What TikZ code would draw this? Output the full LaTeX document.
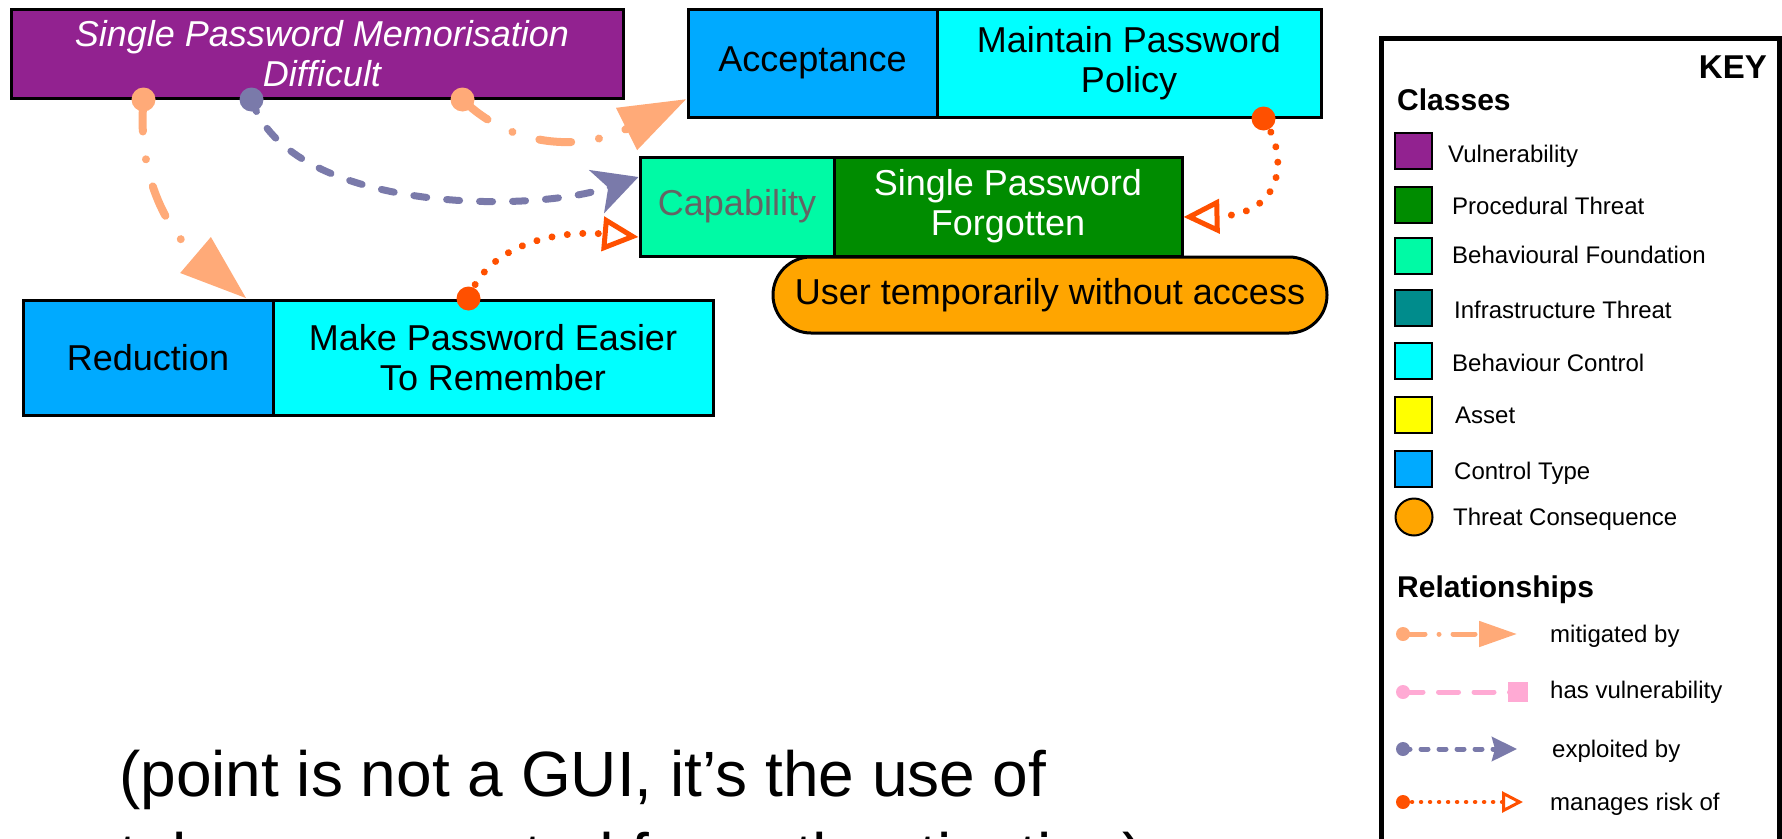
\documentclass[tikz,border=0pt]{standalone}
\usepackage{fontspec}
\setmainfont{Liberation Sans}
\usetikzlibrary{arrows.meta,calc}
\definecolor{vulnC}{RGB}{146,34,144}
\definecolor{ctrlT}{RGB}{0,170,255}
\definecolor{bctrl}{RGB}{0,255,255}
\definecolor{bfound}{RGB}{0,250,165}
\definecolor{pthreat}{RGB}{0,140,0}
\definecolor{ithreat}{RGB}{0,140,140}
\definecolor{assetC}{RGB}{255,255,0}
\definecolor{conseq}{RGB}{255,165,0}
\definecolor{mitC}{RGB}{255,170,120}
\definecolor{hasvC}{RGB}{255,170,212}
\definecolor{expC}{RGB}{122,122,170}
\definecolor{manC}{RGB}{255,80,0}
\definecolor{capTxt}{RGB}{100,100,100}
\begin{document}
\begin{tikzpicture}[x=1pt,y=-1pt,
  box/.style={draw=black, line width=3pt, rectangle, inner sep=0pt, align=center,
    font=\fontsize{36}{40}\selectfont},
  mitline/.style={draw=mitC, line width=8pt, line cap=round,
    dash pattern=on 32pt off 28pt on 0.01pt off 28pt, -{Triangle[length=67pt,width=45pt]}},
  expline/.style={draw=expC, line width=7pt, line cap=round,
    dash pattern=on 13pt off 20pt, -{Stealth[length=44pt,width=45pt,inset=12pt]}},
  manline/.style={draw=manC, line width=7pt, line cap=round,
    dash pattern=on 0.01pt off 15.5pt, -{Triangle[open,length=36pt,width=34pt,line width=5pt]}},
  legsq/.style={draw=black, line width=2pt, rectangle, inner sep=0pt, minimum width=37pt, minimum height=36pt},
  legtxt/.style={anchor=base west, inner sep=0pt, font=\fontsize{24}{28}\selectfont},
  leghead/.style={anchor=base west, inner sep=0pt, font=\bfseries\fontsize{30}{34}\selectfont},
  notetxt/.style={anchor=base west, inner sep=0pt, font=\fontsize{64}{76}\selectfont}
]
\useasboundingbox (0,0) rectangle (1782,838);
\clip (0,0) rectangle (1782,838);

% ---------- main boxes ----------
\node[box, fill=vulnC, text=white, font=\fontsize{36}{40}\selectfont\itshape,
  minimum width=612pt, minimum height=89pt] (vuln) at (317,53.5)
  {\hspace*{10pt}Single Password Memorisation\\\hspace*{10pt}Difficult};
\node[box, fill=ctrlT, minimum width=249pt, minimum height=108pt] (acc) at (812.5,63) {Acceptance};
\node[box, fill=bctrl, minimum width=384pt, minimum height=108pt] (main) at (1129,63) {Maintain Password\\Policy};
\node[box, fill=bfound, text=capTxt, minimum width=194pt, minimum height=99pt] (cap) at (737,206.5) {Capability};
\node[box, fill=pthreat, text=white, minimum width=348pt, minimum height=99pt] (spf) at (1008,206.5) {Single Password\\Forgotten};
\node[box, fill=conseq, rounded corners=38pt, minimum width=554pt, minimum height=76pt] (user) at (1050,295) {User temporarily without access};
\node[box, fill=ctrlT, minimum width=250pt, minimum height=115pt] (red) at (148,357.5) {Reduction};
\node[box, fill=bctrl, minimum width=440pt, minimum height=115pt] (make) at (493,357.5) {Make Password Easier\\To Remember};

% ---------- connectors ----------
\coordinate (m1s) at ([xshift=134pt]vuln.south west);
\coordinate (m1e) at ([xshift=-28pt]red.north east);
\coordinate (m2s) at ([xshift=453pt]vuln.south west);
\coordinate (m2e) at ([yshift=-36pt]acc.west);
\coordinate (e1s) at ([xshift=242pt]vuln.south west);
\coordinate (e1e) at ([yshift=29.5pt]cap.west);
\coordinate (r1s) at ([xshift=197pt]make.north west);
\coordinate (r1e) at ([yshift=-30.5pt]cap.west);
\coordinate (r2s) at ([xshift=-59pt]main.south east);
\coordinate (r2e) at ([yshift=-10.5pt]spf.east);

\draw[mitline] (m1s) .. controls +(-7,82) and +(-75,-64) .. (m1e);
\draw[mitline] (m2s) .. controls +(46,46) and +(-108,54) .. (m2e);
\draw[expline] (e1s) .. controls +(37,112) and +(-109,38) .. (e1e);
\draw[manline] (r1s) .. controls +(20,-55) and +(-80,-7) .. (r1e);
\draw[manline] (r2s) .. controls +(28,43) and +(96,-2) .. (r2e);

\fill[mitC] (m1s) circle (12pt);
\fill[mitC] (m2s) circle (12pt);
\fill[expC] (e1s) circle (12pt);
\fill[manC] (r1s) circle (12pt);
\fill[manC] (r2s) circle (12pt);

% ---------- key ----------
\node[draw=black, line width=5pt, rectangle, inner sep=0pt, minimum width=398pt, minimum height=820pt] (keybox) at (1580,448) {};
\node[anchor=base east, inner sep=0pt, font=\bfseries\fontsize{33}{36}\selectfont] (keyt) at (1767,78) {KEY};
\node[leghead] (cls) at (1397,110) {Classes};

\node[legsq, fill=vulnC] (k1) at (1413.5,151) {};
\node[legtxt] (t1) at (1448,162) {Vulnerability};
\node[legsq, fill=pthreat] (k2) at (1413.5,205) {};
\node[legtxt] (t2) at (1452,214) {Procedural Threat};
\node[legsq, fill=bfound] (k3) at (1413.5,256) {};
\node[legtxt] (t3) at (1452,263) {Behavioural Foundation};
\node[legsq, fill=ithreat] (k4) at (1413.5,308) {};
\node[legtxt] (t4) at (1454,318) {Infrastructure Threat};
\node[legsq, fill=bctrl] (k5) at (1413.5,361) {};
\node[legtxt] (t5) at (1452,371) {Behaviour Control};
\node[legsq, fill=assetC] (k6) at (1413.5,415) {};
\node[legtxt] (t6) at (1455,423) {Asset};
\node[legsq, fill=ctrlT] (k7) at (1413.5,469) {};
\node[legtxt] (t7) at (1454,479) {Control Type};
\node[draw=black, line width=2pt, circle, fill=conseq, inner sep=0pt, minimum size=37pt] (k8) at (1414,517) {};
\node[legtxt] (t8) at (1453,525) {Threat Consequence};

\node[leghead] (rel) at (1397,597) {Relationships};

\coordinate (l1a) at (1403,634); \coordinate (l1b) at (1517,634);
\draw[draw=mitC, line width=5pt, line cap=round, dash pattern=on 22pt off 14pt on 0.01pt off 14pt,
  -{Triangle[length=38pt,width=25pt]}] (l1a) -- (l1b);
\fill[mitC] (l1a) circle (7pt);
\node[legtxt] (t9) at (1550,642) {mitigated by};

\coordinate (l2a) at (1403,692); \coordinate (l2b) at (1528,692);
\draw[draw=hasvC, line width=5pt, line cap=round, dash pattern=on 20pt off 15.5pt,
  -{Square[length=20pt,width=20pt]}] (l2a) -- (l2b);
\fill[hasvC] (l2a) circle (7pt);
\node[legtxt] (t10) at (1550,698) {has vulnerability};

\coordinate (l3a) at (1403,749); \coordinate (l3b) at (1517,749);
\draw[draw=expC, line width=5pt, line cap=round, dash pattern=on 7pt off 11pt,
  -{Stealth[length=25pt,width=24pt,inset=3pt]}] (l3a) -- (l3b);
\fill[expC] (l3a) circle (7pt);
\node[legtxt] (t11) at (1552,757) {exploited by};

\coordinate (l4a) at (1403,802); \coordinate (l4b) at (1523,802);
\draw[draw=manC, line width=4.5pt, line cap=round, dash pattern=on 0.01pt off 9pt,
  -{Triangle[open,length=21pt,width=21pt,line width=3pt]}] (l4a) -- (l4b);
\fill[manC] (l4a) circle (7pt);
\node[legtxt] (t12) at (1550,810) {manages risk of};

% ---------- note ----------
\node[notetxt] (note1) at (119,796) {(point is not a GUI, it’s the use of};
\node[notetxt] (note2) at (119,878) {tokens generated for authentication)};
\end{tikzpicture}
\end{document}
